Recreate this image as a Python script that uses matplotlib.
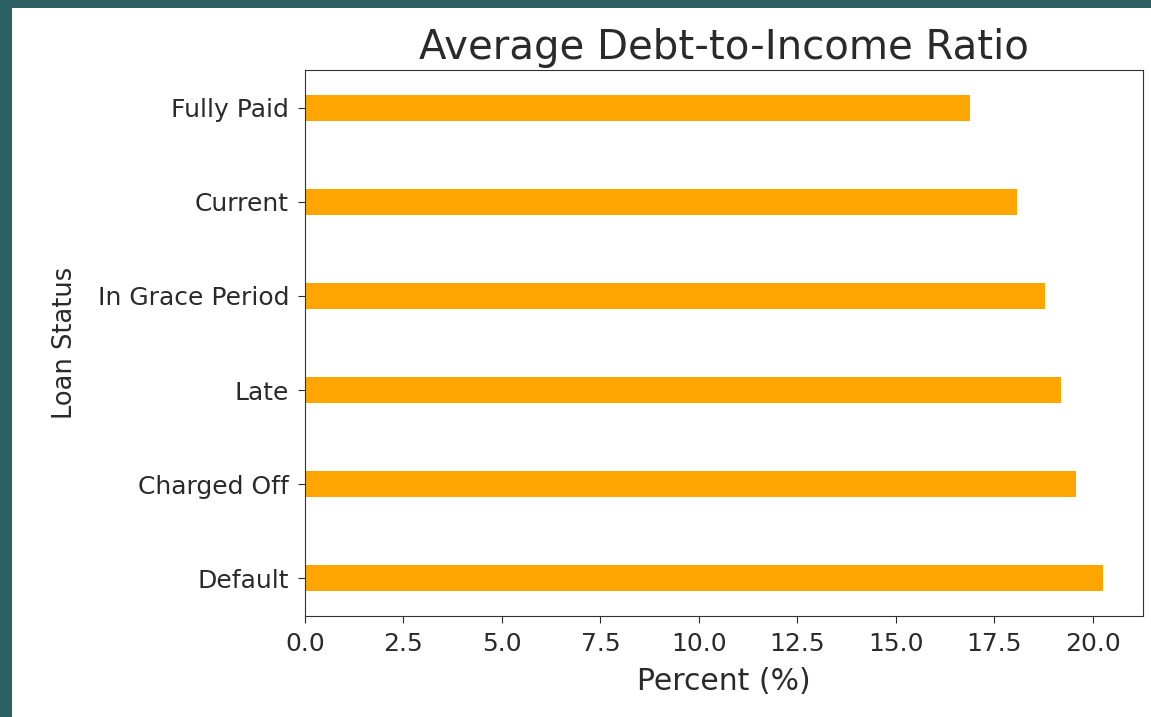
import matplotlib.pyplot as plt
from matplotlib.patches import Rectangle

# data (bottom to top, as drawn by barh)
statuses = ['Default', 'Charged Off', 'Late', 'In Grace Period', 'Current', 'Fully Paid']
dti_pct = [20.26, 19.58, 19.2, 18.78, 18.08, 16.87]

W, H = 1151, 717
fig = plt.figure(figsize=(W / 100, H / 100), dpi=100)
fig.patch.set_facecolor('#2c6062')
# white canvas of the notebook output inside the teal frame
fig.patches.append(Rectangle((12 / W, 0), 1 - 12 / W, 1 - 8 / H,
                             transform=fig.transFigure, facecolor='white',
                             edgecolor='none', zorder=-10))

ax = fig.add_axes([305 / W, 1 - 616 / H, (1143 - 305) / W, (616 - 70) / H])
ax.barh(statuses, dti_pct, height=0.28, color='orange')

txt = '#2a2a2a'
ax.set_title('Average Debt-to-Income Ratio', fontsize=29, color=txt, pad=8)
ax.set_xlabel('Percent (%)', fontsize=21.5, color=txt, labelpad=8)
ax.set_ylabel('Loan Status', fontsize=18.5, color=txt, labelpad=14)
ax.tick_params(labelsize=18, colors=txt, length=5, pad=6.5)
for s in ax.spines.values():
    s.set_color('#333333')

fig.savefig('out.png', dpi=100, facecolor=fig.get_facecolor())
